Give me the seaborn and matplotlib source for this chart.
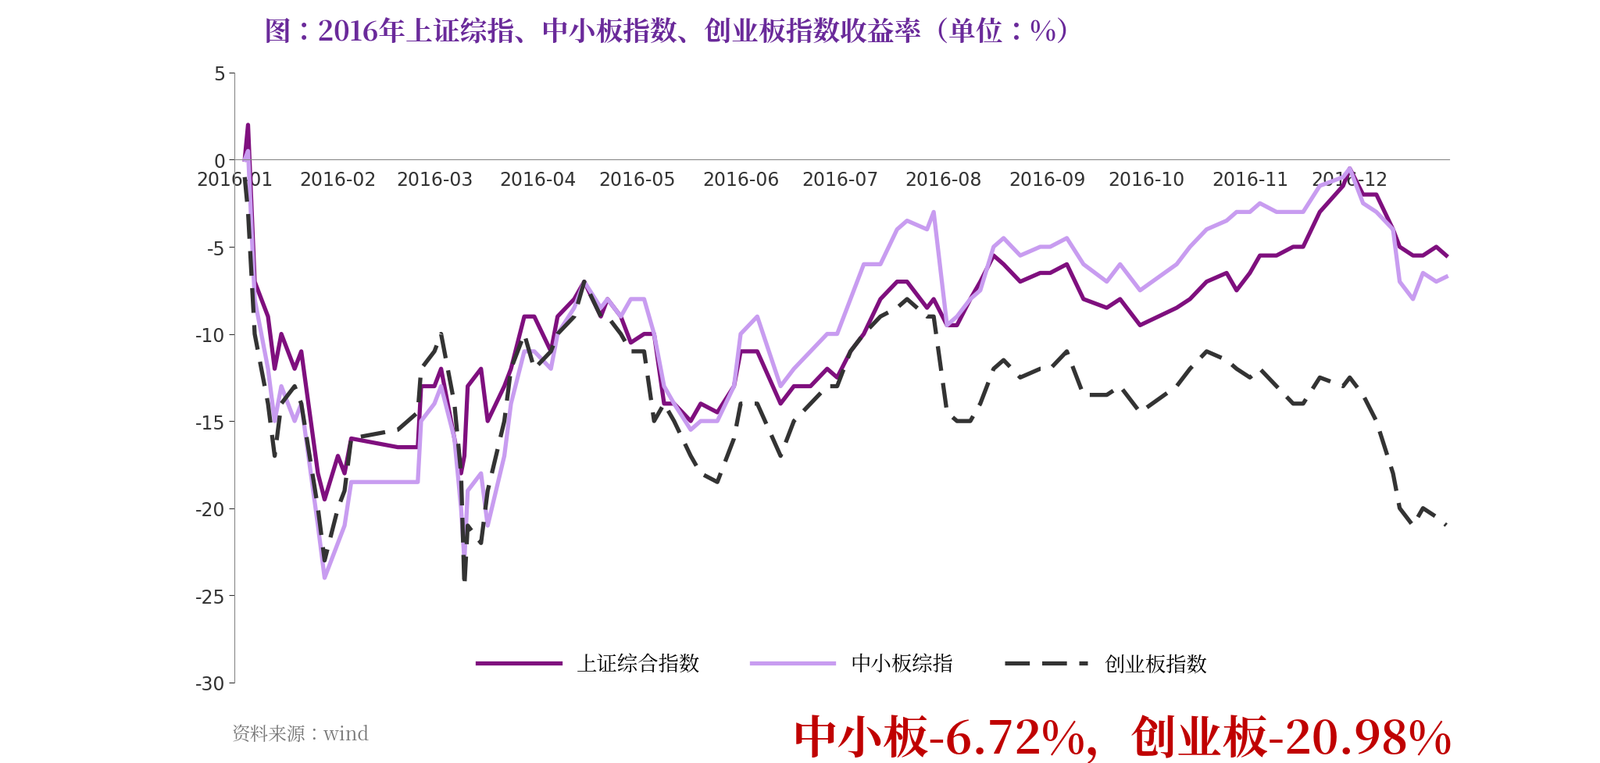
import matplotlib
matplotlib.use("Agg")
import matplotlib.pyplot as plt
from matplotlib import font_manager as fm
import seaborn as sns
import pandas as pd

dates = ["01-04","01-05","01-07","01-11","01-13","01-15","01-19","01-21","01-26","01-28",
 "02-01","02-03","02-05","02-19","02-25","02-26","03-01","03-03","03-07","03-09",
 "03-10","03-11","03-15","03-17","03-22","03-24","03-28","03-31","04-05","04-07",
 "04-12","04-15","04-20","04-22","04-26","04-29","05-03","05-06","05-09","05-12",
 "05-17","05-20","05-25","05-30","06-01","06-06","06-13","06-17","06-22","06-27",
 "06-30","07-04","07-08","07-13","07-18","07-21","07-27","07-29","08-02","08-05",
 "08-09","08-12","08-16","08-19","08-24","08-30","09-02","09-07","09-12","09-19",
 "09-23","09-29","10-10","10-14","10-19","10-25","10-28","11-01","11-04","11-09",
 "11-14","11-17","11-22","11-29","12-01","12-05","12-09","12-14","12-16","12-20",
 "12-23","12-27","12-30"]
sh = [0,2,-7,-9,-12,-10,-12,-11,-18,-19.5,-17,-18,-16,-16.5,-16.5,-13,-13,-12,-16,-18,
 -17,-13,-12,-15,-13,-12,-9,-9,-11,-9,-8,-7,-9,-8,-9,-10.5,-10,-10,-14,-14,
 -15,-14,-14.5,-13,-11,-11,-14,-13,-13,-12,-12.5,-11,-10,-8,-7,-7,-8.5,-8,-9.5,-9.5,
 -8,-7,-5.5,-6,-7,-6.5,-6.5,-6,-8,-8.5,-8,-9.5,-8.5,-8,-7,-6.5,-7.5,-6.5,-5.5,-5.5,
 -5,-5,-3,-1.5,-0.5,-2,-2,-4,-5,-5.5,-5.5,-5,-5.5]
sme = [0,0.5,-8,-12,-15,-13,-15,-14,-21,-24,-22,-21,-18.5,-18.5,-18.5,-15,-14,-13,-16,-20,
 -23,-19,-18,-21,-17,-14,-11,-11,-12,-10,-8.5,-7,-8.5,-8,-9,-8,-8,-10,-13,-14,
 -15.5,-15,-15,-13,-10,-9,-13,-12,-11,-10,-10,-8,-6,-6,-4,-3.5,-4,-3,-9.5,-9,
 -8,-7.5,-5,-4.5,-5.5,-5,-5,-4.5,-6,-7,-6,-7.5,-6,-5,-4,-3.5,-3,-3,-2.5,-3,
 -3,-3,-1.5,-1,-0.5,-2.5,-3,-4,-7,-8,-6.5,-7,-6.72]
gem = [-1,-3,-10,-14,-17,-14,-13,-14,-20,-23,-20,-19,-16,-15.5,-14.5,-12,-11,-10,-14,-18,
 -24.5,-21,-22,-19,-15,-12,-10,-12,-11,-10,-9,-7,-9,-9,-10,-11,-11,-15,-14,-15,
 -17,-18,-18.5,-16,-14,-14,-17,-15,-14,-13,-13,-11,-10,-9,-8.5,-8,-9,-9,-14.5,-15,
 -15,-14,-12,-11.5,-12.5,-12,-12,-11,-13.5,-13.5,-13,-14.5,-13,-12,-11,-11.5,-12,-12.5,-12,-13,
 -14,-14,-12.5,-13,-12.5,-13.5,-15,-18,-20,-21,-20,-20.5,-20.98]
names = ["上证综合指数", "中小板综指", "创业板指数"]
month_labels = ["2016-%02d" % m for m in range(1, 13)]

cjk = [f for f in fm.findSystemFonts() if "CJK" in f or "cjk" in f.lower()]
cjk.sort(key=lambda f: (("Bold" in f), not ("SC" in f or "Regular" in f)))
fp_reg = fm.FontProperties(fname=cjk[0]) if cjk else fm.FontProperties(family="Noto Sans CJK SC")
bold = [f for f in cjk if "Bold" in f]
fp_bold = fm.FontProperties(fname=bold[0]) if bold else fp_reg
plt.rcParams["axes.unicode_minus"] = False

d = pd.to_datetime(["2016-" + s for s in dates])
df = pd.concat([pd.DataFrame({"date": d, "v": vals, "s": n}) for n, vals in zip(names, [sh, sme, gem])])

fig = plt.figure(figsize=(20.48, 9.78), dpi=100)
ax = fig.add_axes([0.1467, 0.1055, 0.7593, 0.7985])
pal = {names[0]: "#7f0f7e", names[1]: "#c89cf0", names[2]: "#333333"}
sns.lineplot(data=df, x="date", y="v", hue="s", palette=pal, linewidth=3.8, ax=ax, legend=False)
ax.lines[2].set_dashes([6, 3])
ax.set_ylim(-30, 5)
ax.set_xlim(pd.Timestamp("2016-01-01"), pd.Timestamp("2016-12-31"))
ax.set_yticks(range(-30, 6, 5))
ax.set_xticks(pd.to_datetime([m + "-01" for m in month_labels]))
ax.set_xticklabels(month_labels)
ax.spines["bottom"].set_position(("data", 0))
for s in ["top", "right"]:
    ax.spines[s].set_visible(False)
ax.spines["bottom"].set_color("#888888")
ax.spines["left"].set_color("#888888")
ax.tick_params(labelsize=17, colors="#333333", length=5)
ax.tick_params(axis="x", length=0, pad=10)
ax.set_xlabel(""); ax.set_ylabel("")
lp = fp_reg.copy(); lp.set_size(19)
ax.legend(ax.lines[:3], names, loc="lower center", bbox_to_anchor=(0.5, -0.02), ncol=3, frameon=False,
          prop=lp, handlelength=4, columnspacing=2.5)
tp = fp_bold.copy(); tp.set_size(25)
fig.text(0.165, 0.957, "图：2016年上证综指、中小板指数、创业板指数收益率（单位：%）",
         fontproperties=tp, color="#6a2a9a", va="center")
sp = fp_reg.copy(); sp.set_size(17)
fig.text(0.145, 0.038, "资料来源：wind", fontproperties=sp, color="#777777", va="center")
rp = fp_bold.copy(); rp.set_size(42)
fig.text(0.908, 0.03, "中小板-6.72%，创业板-20.98%", fontproperties=rp, color="#c00000",
         ha="right", va="center")
fig.savefig("out.png", dpi=100)
